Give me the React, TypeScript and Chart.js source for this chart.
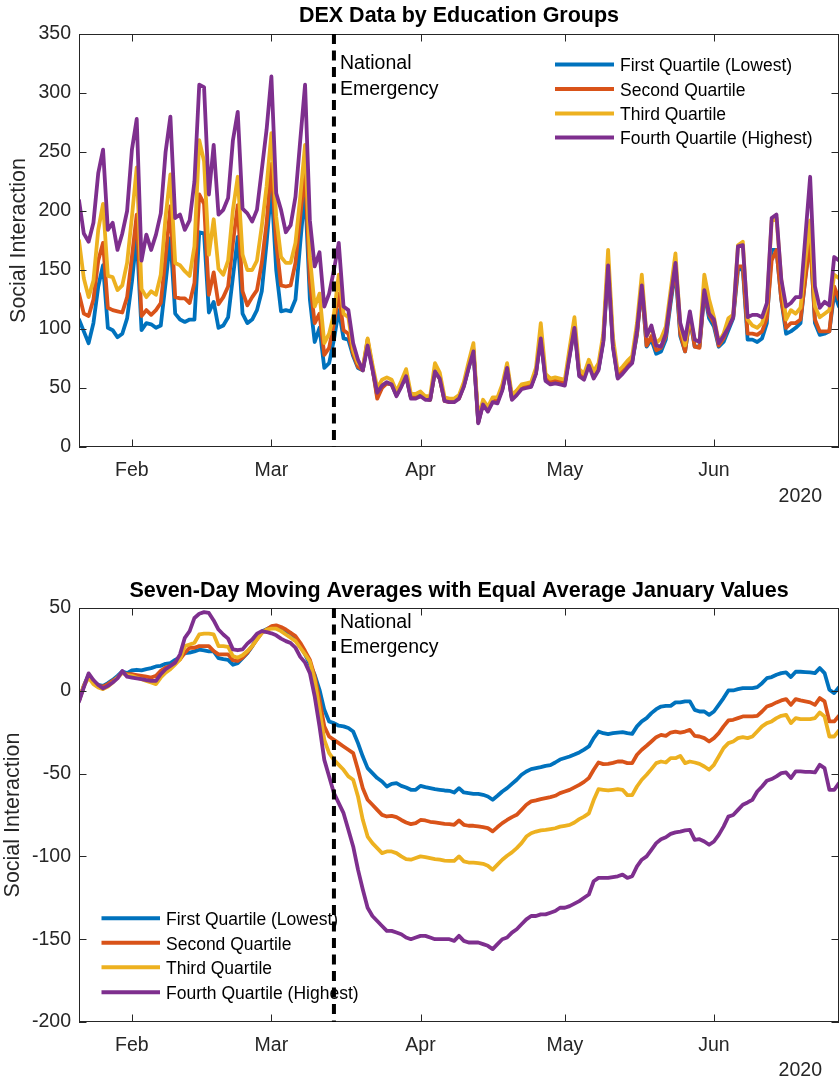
import React, { useEffect, useRef } from 'react';
import { Chart, registerables } from 'chart.js';

Chart.register(...registerables);

// ---------- labels & categories ----------
const SERIES_NAMES = ['First Quartile (Lowest)', 'Second Quartile', 'Third Quartile', 'Fourth Quartile (Highest)'];
const SERIES_COLORS = ['#0072BD', '#D95319', '#EDB120', '#7E2F8E'];
// x axis = day index counted from 21 Jan 2020
const MONTH_TICKS = [11, 40, 71, 101, 132];
const MONTH_LABELS = ['Feb', 'Mar', 'Apr', 'May', 'Jun'];
const YEAR_LABEL = '2020';
const EMERGENCY_DAY = 53; // 13 Mar 2020
const EMERGENCY_LABEL = ['National', 'Emergency'];
const X_MIN = 0;
const X_MAX = 158;
const TOP_TITLE = 'DEX Data by Education Groups';
const BOTTOM_TITLE = 'Seven-Day Moving Averages with Equal Average January Values';
const Y_TITLE = 'Social Interaction';

// ---------- top panel: daily DEX values ----------
const DEX_Q1 = [
  108, 98, 88, 105, 136, 154, 101, 99, 93, 96,
  109, 140, 179, 99, 105, 104, 101, 103, 139, 177,
  113, 108, 106, 108, 108, 182, 181, 114, 123, 101,
  103, 110, 144, 178, 113, 105, 108, 116, 132, 173,
  221, 150, 115, 116, 115, 125, 173, 218, 125, 89,
  101, 67, 71, 91, 116, 92, 91, 77, 67, 65,
  89, 67, 43, 51, 54, 53, 44, 52, 60, 42,
  42, 44, 41, 40, 64, 58, 40, 39, 39, 42,
  52, 67, 82, 21, 37, 32, 40, 39, 49, 67,
  41, 45, 50, 52, 52, 63, 93, 57, 55, 56,
  55, 54, 78, 102, 61, 59, 71, 61, 66, 90,
  155, 86, 59, 63, 68, 72, 95, 136, 85, 91,
  79, 81, 91, 122, 150, 94, 81, 109, 85, 85,
  130, 109, 102, 85, 89, 99, 109, 150, 151, 91,
  91, 89, 92, 105, 167, 167, 125, 96, 98, 101,
  105, 144, 178, 105, 95, 96, 98, 130, 119,
];
const DEX_Q2 = [
  130, 113, 111, 125, 158, 173, 118, 116, 115, 114,
  127, 161, 197, 111, 116, 112, 116, 122, 161, 204,
  127, 126, 126, 122, 139, 214, 206, 129, 148, 121,
  127, 136, 173, 205, 132, 120, 127, 133, 156, 190,
  240, 173, 137, 136, 137, 156, 195, 235, 140, 105,
  113, 78, 84, 105, 130, 99, 96, 79, 68, 65,
  91, 67, 41, 50, 54, 53, 44, 52, 61, 42,
  42, 43, 41, 40, 64, 58, 39, 38, 39, 41,
  52, 68, 83, 21, 37, 31, 39, 39, 49, 68,
  41, 45, 50, 52, 52, 63, 94, 58, 55, 57,
  56, 54, 79, 103, 62, 59, 72, 62, 67, 91,
  156, 87, 60, 64, 69, 73, 96, 136, 86, 94,
  82, 84, 94, 125, 153, 96, 81, 110, 85, 84,
  132, 112, 105, 86, 92, 102, 110, 153, 153, 96,
  96, 95, 98, 109, 158, 167, 125, 101, 105, 105,
  108, 142, 175, 108, 98, 98, 98, 136, 125,
];
const DEX_Q3 = [
  175, 143, 127, 141, 184, 206, 145, 144, 133, 137,
  156, 195, 237, 134, 127, 132, 129, 146, 195, 231,
  156, 154, 149, 145, 170, 260, 242, 163, 193, 151,
  146, 158, 201, 229, 163, 150, 150, 158, 187, 221,
  266, 195, 161, 156, 156, 173, 212, 256, 161, 119,
  130, 88, 96, 113, 146, 113, 110, 82, 71, 67,
  92, 70, 50, 57, 59, 57, 47, 56, 66, 45,
  45, 47, 43, 43, 71, 63, 42, 41, 41, 44,
  55, 72, 88, 24, 40, 34, 42, 42, 53, 71,
  44, 48, 53, 54, 55, 67, 105, 62, 58, 59,
  58, 57, 84, 110, 66, 62, 74, 64, 71, 96,
  167, 93, 64, 68, 73, 77, 105, 146, 94, 101,
  88, 92, 102, 133, 164, 103, 86, 110, 91, 89,
  146, 125, 110, 89, 96, 109, 112, 171, 174, 108,
  103, 101, 105, 119, 192, 194, 142, 108, 116, 113,
  118, 158, 192, 119, 110, 113, 116, 146, 143,
];
const DEX_Q4 = [
  209, 181, 174, 190, 232, 252, 184, 190, 167, 181,
  200, 252, 278, 158, 180, 167, 180, 198, 250, 280,
  194, 197, 184, 192, 225, 307, 305, 214, 256, 197,
  201, 211, 260, 284, 202, 198, 191, 201, 235, 269,
  314, 215, 201, 182, 188, 212, 260, 307, 192, 153,
  165, 119, 130, 150, 173, 119, 116, 88, 74, 65,
  86, 66, 46, 52, 55, 53, 43, 51, 60, 41,
  41, 43, 40, 40, 64, 58, 39, 38, 38, 41,
  51, 67, 81, 20, 36, 30, 38, 37, 48, 67,
  40, 44, 49, 50, 51, 62, 92, 56, 53, 54,
  53, 52, 77, 101, 60, 57, 69, 58, 65, 89,
  154, 85, 58, 62, 67, 71, 99, 137, 94, 103,
  86, 85, 96, 127, 156, 105, 91, 115, 91, 89,
  133, 113, 108, 88, 94, 101, 110, 170, 171, 110,
  112, 112, 110, 122, 194, 197, 142, 119, 122, 127,
  127, 178, 229, 136, 118, 123, 120, 161, 158,
];

// ---------- bottom panel: seven-day moving averages ----------
const MA_Q1 = [
  -6, 3, 9.7, 5.6, 3.6, 3, 4.6, 6.6, 9, 11.7,
  10.7, 12.3, 12.7, 12.3, 13.1, 13.7, 14.7, 15.1, 16.3, 16.7,
  18.7, 20.3, 22.7, 23.1, 23.8, 24.8, 24.4, 23.8, 23.8, 19.7,
  19.1, 18.7, 15.7, 16.7, 19.7, 22.7, 26.8, 31.8, 35.8, 37.2,
  38.5, 38.5, 37.2, 35.8, 34.8, 31.8, 27, 22, 16, 9.7,
  0.6, -11.5, -18.5, -19.5, -21.1, -21.5, -22.5, -24.6, -31.6, -39.7,
  -46.7, -49.7, -52.7, -54.8, -57.8, -56.2, -55.8, -57.4, -58.4, -59.8,
  -59.8, -57.4, -58.2, -58.8, -59.4, -59.8, -60.2, -60.4, -61.4, -58.8,
  -61.4, -61.8, -62.2, -62.2, -62.8, -63.8, -65.8, -63.4, -60.8, -58.8,
  -56.2, -53.7, -50.7, -48.7, -47.3, -46.7, -46.1, -45.3, -44.9, -43.3,
  -41.5, -40.6, -39.7, -38.5, -37.2, -35.5, -33.6, -28.6, -24.6, -25.6,
  -26.2, -25.6, -25.2, -25, -25.6, -26, -21.5, -18.5, -16.5, -13.5,
  -11.1, -9.5, -9.1, -9.1, -7, -7, -6.4, -6.4, -11.5, -12.5,
  -12.5, -14.5, -12.5, -8.5, -4.4, 0.2, 0.2, 1, 1.6, 1.6,
  1.6, 2.2, 4.6, 7.6, 8.3, 9.7, 10.7, 11.1, 8.3, 11.5,
  11.5, 11.3, 11.1, 10.7, 13.7, 10.7, 0.6, -1.4, 2.2,
];
const MA_Q2 = [
  -6, 3, 9, 5, 3, 2.5, 4, 6, 8, 11,
  10, 10, 9.5, 9, 8.5, 8, 9, 12, 14, 15,
  17, 19, 23, 26, 26, 27, 27, 27, 24, 22,
  22, 22, 18.5, 18, 20, 23, 27, 31, 35, 37,
  39, 39.5, 38.5, 37, 35, 33, 29, 24, 18.7, 8.7,
  -5.4, -21.5, -27.6, -29.6, -31.6, -33.6, -35.6, -37.6, -47.7, -58.8,
  -65.8, -68.8, -71.9, -74.9, -75.9, -75.5, -76.3, -78, -79.5, -80.5,
  -79.9, -78, -78.3, -79.1, -79.5, -79.9, -80.3, -80.5, -80.9, -78.3,
  -80.9, -81.5, -81.5, -81.9, -82.3, -82.9, -84.9, -82.3, -79.9, -78,
  -76.3, -74.9, -71.9, -68.8, -66.8, -66.2, -65.4, -64.8, -64.2, -63.4,
  -61.8, -60.8, -59.8, -58.3, -56.8, -55, -52.7, -47.7, -43.3, -44.3,
  -44.1, -43.5, -42.7, -42.7, -43.7, -43.7, -38.6, -35.6, -33.2, -30.6,
  -28, -26.6, -27.2, -25.2, -24.6, -25.2, -24.6, -23.6, -27.2, -27.6,
  -28.6, -30.6, -28.6, -25.6, -21.5, -17.9, -17.5, -16.5, -15.5, -15.5,
  -15.5, -15.1, -12.5, -9.5, -8.5, -7, -5.8, -5, -8.5, -5,
  -5.8, -6.4, -7, -8.5, -4.4, -6.4, -18.5, -18.5, -15.1,
];
const MA_Q3 = [
  -6, 3, 8, 4, 2, 1, 2.5, 5, 8, 11,
  9.5, 9, 8, 7, 6, 5, 4, 8, 11, 13,
  16, 19, 27, 28, 29, 34, 34.5, 34.5, 34, 27,
  27, 26.5, 21, 20, 21.5, 24, 27, 31, 35, 37,
  37.5, 37.5, 36, 34, 32, 30, 26, 22, 17.7, 6.6,
  -11.5, -29.6, -37.6, -41.7, -44.7, -47.7, -51.7, -53.7, -63.8, -77.9,
  -88, -92, -95, -98, -97, -97, -98, -100, -101.6, -102,
  -101, -100, -100.4, -101, -101.6, -102, -102.5, -102.7, -102.7, -100,
  -103, -103.7, -103.7, -104, -104.5, -105.7, -108, -105, -102, -99.6,
  -97.6, -95, -92, -88, -86, -85, -84.3, -84, -83.5, -83,
  -82, -81.5, -81, -79.5, -77.5, -76, -74, -66, -59.4, -59.8,
  -60.2, -59.8, -59.4, -59.8, -63, -63, -57.8, -53.7, -50.7, -47.3,
  -43.7, -42.7, -43.3, -40.7, -40.7, -39.3, -43.7, -42.7, -43.3, -44.1,
  -45.7, -47.7, -44.7, -39.7, -34.6, -31.6, -30.6, -28.6, -28, -28.6,
  -27.6, -24.6, -21.5, -19.5, -18.5, -16.5, -15.1, -14.5, -19.5, -16.5,
  -17.1, -17.1, -17.1, -16.5, -13.1, -15.5, -27.6, -27.6, -24,
];
const MA_Q4 = [
  -6.5, 2, 10.5, 6.5, 3.5, 1.5, 3, 5, 7.5, 12,
  8.5, 8, 7.5, 7, 6.5, 6, 6, 10, 13, 15,
  17, 22, 32, 36, 44, 46.5, 47.5, 47, 42.5, 37,
  34, 31.5, 25, 24.5, 25, 28.5, 31, 34.5, 36, 35.5,
  34.7, 33.5, 31.5, 30, 28.8, 26, 20.5, 17, 10.7, -3.4,
  -21.5, -41.7, -51.7, -61.8, -67.8, -73.9, -83.9, -94, -108, -120,
  -131, -136, -139, -142, -145, -145, -146, -147, -149, -150,
  -149, -148, -148, -149, -150, -150, -150, -150, -151, -148,
  -151, -152, -152, -152, -153, -154, -156, -153, -150, -149,
  -146, -144, -141, -138, -136, -136, -135, -135, -134, -133,
  -131, -131, -130, -128.5, -127, -125, -123, -115, -113, -113,
  -113, -112.5, -112, -111, -113, -112, -106, -102, -100, -96,
  -92, -89.6, -88.4, -86.4, -85.5, -85, -84.3, -84, -90, -89.6,
  -91, -93, -91, -87, -82, -76, -75, -71.9, -68.8, -67.4,
  -65.8, -60.8, -57.8, -54.3, -53.3, -51.7, -49.7, -49.3, -52.7, -48.7,
  -48.7, -48.9, -48.9, -49.3, -44.7, -46.7, -59.8, -59.8, -55.8,
];

// ---------- styling ----------
const FONT = '"Liberation Sans", Arial, Helvetica, sans-serif';
const AXIS_COLOR = '#262626';
const TICK_LEN = 7.5;
const WIDTH = 839;

type PanelCfg = {
  series: number[][];
  yMin: number;
  yMax: number;
  canvasH: number;
  chartTop: number;
  chartBottom: number;
  yTitlePad: number;
  title: string;
  titleY: number;
  legendX1: number;
  legendX2: number;
  legendTextX: number;
  legendYs: number[];
  emergencyTextYs: number[];
  yearY: number;
};

function makeOverlay(cfg: PanelCfg) {
  return {
    id: 'matlabOverlay',
    afterDatasetsDraw(chart: any) {
      const { ctx, chartArea: a, scales } = chart;
      const xs = scales.x;
      const ys = scales.y;
      ctx.save();
      // axes box
      ctx.setLineDash([]);
      ctx.strokeStyle = AXIS_COLOR;
      ctx.lineWidth = 1;
      ctx.strokeRect(a.left + 0.5, a.top + 0.5, a.right - a.left - 1, a.bottom - a.top - 1);
      // inward ticks on all sides
      ctx.beginPath();
      for (const t of xs.ticks) {
        const px = Math.round(xs.getPixelForValue(t.value)) + 0.5;
        ctx.moveTo(px, a.bottom);
        ctx.lineTo(px, a.bottom - TICK_LEN);
        ctx.moveTo(px, a.top);
        ctx.lineTo(px, a.top + TICK_LEN);
      }
      for (const t of ys.ticks) {
        const py = Math.round(ys.getPixelForValue(t.value)) + 0.5;
        ctx.moveTo(a.left, py);
        ctx.lineTo(a.left + TICK_LEN, py);
        ctx.moveTo(a.right, py);
        ctx.lineTo(a.right - TICK_LEN, py);
      }
      ctx.stroke();
      // national emergency line
      const ex = xs.getPixelForValue(EMERGENCY_DAY);
      ctx.strokeStyle = '#000';
      ctx.lineWidth = 4;
      ctx.setLineDash([10, 6.5]);
      ctx.beginPath();
      ctx.moveTo(ex, a.top);
      ctx.lineTo(ex, a.bottom);
      ctx.stroke();
      ctx.setLineDash([]);
      ctx.fillStyle = '#000';
      ctx.font = `19.5px ${FONT}`;
      ctx.textAlign = 'left';
      ctx.textBaseline = 'middle';
      EMERGENCY_LABEL.forEach((s, i) => ctx.fillText(s, ex + 6, cfg.emergencyTextYs[i]));
      // legend
      ctx.font = `17.5px ${FONT}`;
      SERIES_NAMES.forEach((name, i) => {
        const y = cfg.legendYs[i];
        ctx.strokeStyle = SERIES_COLORS[i];
        ctx.lineWidth = 4;
        ctx.beginPath();
        ctx.moveTo(cfg.legendX1, y);
        ctx.lineTo(cfg.legendX2, y);
        ctx.stroke();
        ctx.fillStyle = '#000';
        ctx.fillText(name, cfg.legendTextX, y + 2);
      });
      // title
      ctx.fillStyle = '#000';
      ctx.font = `bold 21.5px ${FONT}`;
      ctx.textAlign = 'center';
      ctx.fillText(cfg.title, (a.left + a.right) / 2, cfg.titleY);
      // year label
      ctx.fillStyle = AXIS_COLOR;
      ctx.font = `19.5px ${FONT}`;
      ctx.textAlign = 'right';
      ctx.fillText(YEAR_LABEL, 822, cfg.yearY);
      ctx.restore();
    },
  };
}

function buildConfig(cfg: PanelCfg): any {
  return {
    type: 'line',
    data: {
      datasets: cfg.series.map((vals, i) => ({
        label: SERIES_NAMES[i],
        data: vals.map((v, d) => ({ x: d, y: v })),
        borderColor: SERIES_COLORS[i],
        backgroundColor: SERIES_COLORS[i],
        borderWidth: 3.8,
        pointRadius: 0,
        tension: 0,
        fill: false,
        borderJoinStyle: 'round',
        borderCapStyle: 'round',
        order: 3 - i,
      })),
    },
    options: {
      responsive: false,
      animation: false,
      devicePixelRatio: 1,
      events: [],
      layout: { padding: { top: cfg.chartTop, left: 0, right: 0, bottom: 0 } },
      plugins: {
        legend: { display: false },
        title: { display: false },
        tooltip: { enabled: false },
      },
      scales: {
        x: {
          type: 'linear',
          min: X_MIN,
          max: X_MAX,
          grid: { display: false, drawTicks: false },
          border: { display: false },
          afterBuildTicks: (s: any) => {
            s.ticks = MONTH_TICKS.map((v) => ({ value: v }));
          },
          ticks: {
            autoSkip: false,
            maxRotation: 0,
            padding: 12,
            color: AXIS_COLOR,
            font: { family: FONT, size: 19.5 },
            callback: (_v: any, idx: number) => MONTH_LABELS[idx],
          },
          afterFit: (s: any) => {
            s.height = cfg.canvasH - cfg.chartBottom;
            s.paddingLeft = 0;
            s.paddingRight = 0;
          },
        },
        y: {
          min: cfg.yMin,
          max: cfg.yMax,
          grid: { display: false, drawTicks: false },
          border: { display: false },
          ticks: {
            stepSize: 50,
            padding: 8,
            color: AXIS_COLOR,
            font: { family: FONT, size: 19.5 },
          },
          title: {
            display: true,
            text: Y_TITLE,
            color: AXIS_COLOR,
            font: { family: FONT, size: 21.5, weight: 'normal' },
            padding: { top: cfg.yTitlePad, bottom: 0 },
          },
          afterFit: (s: any) => {
            s.width = 79;
            s.paddingTop = 0;
            s.paddingBottom = 0;
          },
        },
      },
    },
    plugins: [makeOverlay(cfg)],
  };
}

const TOP_PANEL: PanelCfg = {
  series: [DEX_Q1, DEX_Q2, DEX_Q3, DEX_Q4],
  yMin: 0,
  yMax: 350,
  canvasH: 520,
  chartTop: 34,
  chartBottom: 447,
  yTitlePad: 6,
  title: TOP_TITLE,
  titleY: 16,
  legendX1: 555,
  legendX2: 614,
  legendTextX: 620,
  legendYs: [64.5, 89, 113.5, 137.5],
  emergencyTextYs: [64, 90],
  yearY: 497,
};

const BOTTOM_PANEL: PanelCfg = {
  series: [MA_Q1, MA_Q2, MA_Q3, MA_Q4],
  yMin: -200,
  yMax: 50,
  canvasH: 563,
  chartTop: 88,
  chartBottom: 502,
  yTitlePad: 0,
  title: BOTTOM_TITLE,
  titleY: 71.5,
  legendX1: 101.5,
  legendX2: 160,
  legendTextX: 166,
  legendYs: [398.3, 422.7, 447.3, 472.3],
  emergencyTextYs: [102.5, 127.5],
  yearY: 551,
};

function Panel({ cfg, top }: { cfg: PanelCfg; top: number }) {
  const ref = useRef<HTMLCanvasElement | null>(null);
  useEffect(() => {
    if (!ref.current) return;
    const chart = new Chart(ref.current, buildConfig(cfg));
    return () => chart.destroy();
  }, [cfg]);
  return (
    <canvas
      ref={ref}
      width={WIDTH}
      height={cfg.canvasH}
      style={{ position: 'absolute', left: 0, top, width: WIDTH, height: cfg.canvasH, display: 'block' }}
    />
  );
}

export default function App() {
  return (
    <div style={{ position: 'absolute', left: 0, top: 0, width: WIDTH, height: 1083, background: '#fff', overflow: 'hidden' }}>
      <Panel cfg={TOP_PANEL} top={0} />
      <Panel cfg={BOTTOM_PANEL} top={520} />
    </div>
  );
}
